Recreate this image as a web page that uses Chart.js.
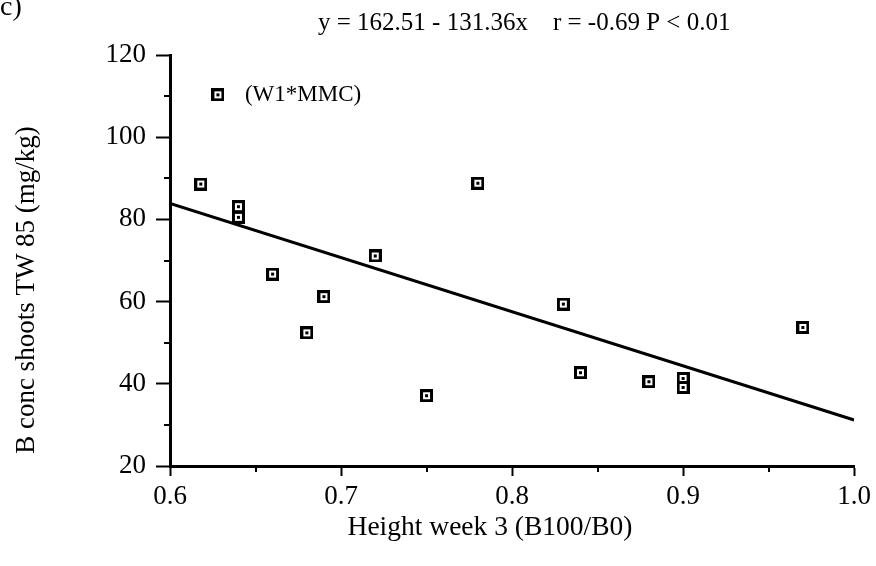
<!DOCTYPE html>
<html>
<head>
<meta charset="utf-8">
<script src="https://cdn.jsdelivr.net/npm/chart.js@4/dist/chart.umd.min.js"></script>
<style>
  html, body { margin: 0; padding: 0; background: #fff; }
  #wrap { width: 876px; height: 566px; position: relative; }
</style>
</head>
<body>
<div id="wrap"><canvas id="c" width="876" height="566"></canvas></div>
<script>
// ---- data ----
const heightWeek3 = [0.628, 0.618, 0.64, 0.64, 0.66, 0.68, 0.69, 0.72, 0.75, 0.78, 0.83, 0.84, 0.88, 0.90, 0.90, 0.97];
const bConcShoots = [110.3, 88.6, 83.1, 80.5, 66.7, 52.4, 61.2, 71.1, 37.1, 88.8, 59.4, 42.7, 40.5, 41.3, 39.1, 53.7];
const fitX = [0.6, 1.0];
const fitY = [83.9, 31.2];
const xTicks = [0.6, 0.7, 0.8, 0.9, 1.0];
const yTicks = [20, 40, 60, 80, 100, 120];
const panelLabel = 'c)';
const equationText = 'y = 162.51 - 131.36x    r = -0.69 P < 0.01';
const pointNote = '(W1*MMC)';
const pointNoteIndex = 0;
const xTitle = 'Height week 3 (B100/B0)';
const yTitle = 'B conc shoots TW 85 (mg/kg)';

const FONT = '"Liberation Serif", "Times New Roman", serif';

// marker: black square with white centre and a dot
const marker = document.createElement('canvas');
marker.width = 13; marker.height = 13;
(function () {
  const g = marker.getContext('2d');
  g.fillStyle = '#000'; g.fillRect(0, 0, 13, 13);
  g.fillStyle = '#fff'; g.fillRect(3, 3, 7, 7);
  g.fillStyle = '#000'; g.fillRect(5, 5, 3, 3);
})();

const extras = {
  id: 'extras',
  afterDraw(chart) {
    const ctx = chart.ctx;
    const xs = chart.scales.x, ys = chart.scales.y;
    const area = chart.chartArea;
    ctx.save();
    // minor ticks
    ctx.strokeStyle = '#000';
    ctx.lineWidth = 2;
    for (let v = 30; v < 120; v += 20) {
      const py = Math.round(ys.getPixelForValue(v));
      ctx.beginPath(); ctx.moveTo(area.left - 6, py); ctx.lineTo(area.left, py); ctx.stroke();
    }
    for (let v = 0.65; v < 1.0; v += 0.1) {
      const px = Math.round(xs.getPixelForValue(v));
      ctx.beginPath(); ctx.moveTo(px, area.bottom); ctx.lineTo(px, area.bottom + 6); ctx.stroke();
    }
    // texts
    ctx.fillStyle = '#000';
    ctx.textBaseline = 'middle';
    ctx.textAlign = 'left';
    ctx.font = '28px ' + FONT;
    ctx.fillText(panelLabel, 0, 8);
    ctx.font = '25px ' + FONT;
    ctx.fillText(equationText, 318, 23);
    const px = xs.getPixelForValue(heightWeek3[pointNoteIndex]);
    const py = ys.getPixelForValue(bConcShoots[pointNoteIndex]);
    ctx.font = '23px ' + FONT;
    ctx.fillText(pointNote, px + 27, py);
    // axis titles
    ctx.textAlign = 'center';
    ctx.font = '27.5px ' + FONT;
    ctx.fillText(xTitle, 490, 528);
    ctx.translate(27, 290);
    ctx.rotate(-Math.PI / 2);
    ctx.font = '27px ' + FONT;
    ctx.fillText(yTitle, 0, 0);
    ctx.restore();
  }
};

new Chart(document.getElementById('c'), {
  data: {
    datasets: [
      {
        type: 'scatter',
        data: heightWeek3.map((x, i) => ({ x, y: bConcShoots[i] })),
        pointStyle: marker,
        pointRadius: 6,
        order: 1
      },
      {
        type: 'line',
        data: fitX.map((x, i) => ({ x, y: fitY[i] })),
        borderColor: '#000',
        borderWidth: 3,
        pointRadius: 0,
        fill: false,
        order: 2
      }
    ]
  },
  options: {
    responsive: false,
    animation: false,
    devicePixelRatio: 1,
    layout: { padding: { top: 55, right: 21, left: 8, bottom: 18 } },
    plugins: { legend: { display: false }, tooltip: { enabled: false }, title: { display: false } },
    scales: {
      x: {
        type: 'linear',
        min: 0.6, max: 1.0,
        afterBuildTicks: s => { s.ticks = xTicks.map(v => ({ value: v })); },
        afterFit: s => { s.height = 82; },
        border: { color: '#000', width: 3 },
        grid: { drawOnChartArea: false, drawTicks: true, tickLength: 10, tickColor: '#000', tickWidth: 2 },
        ticks: { color: '#000', font: { family: FONT, size: 27 }, padding: 5, maxRotation: 0,
                 callback: v => Number(v).toFixed(1) },
        title: { display: false }
      },
      y: {
        type: 'linear',
        min: 20, max: 120,
        afterBuildTicks: s => { s.ticks = yTicks.map(v => ({ value: v })); },
        afterFit: s => { s.width = 162; },
        border: { color: '#000', width: 3 },
        grid: { drawOnChartArea: false, drawTicks: true, tickLength: 14, tickColor: '#000', tickWidth: 2 },
        ticks: { color: '#000', font: { family: FONT, size: 27 }, padding: 10 },
        title: { display: false }
      }
    }
  },
  plugins: [extras]
});
</script>
</body>
</html>
